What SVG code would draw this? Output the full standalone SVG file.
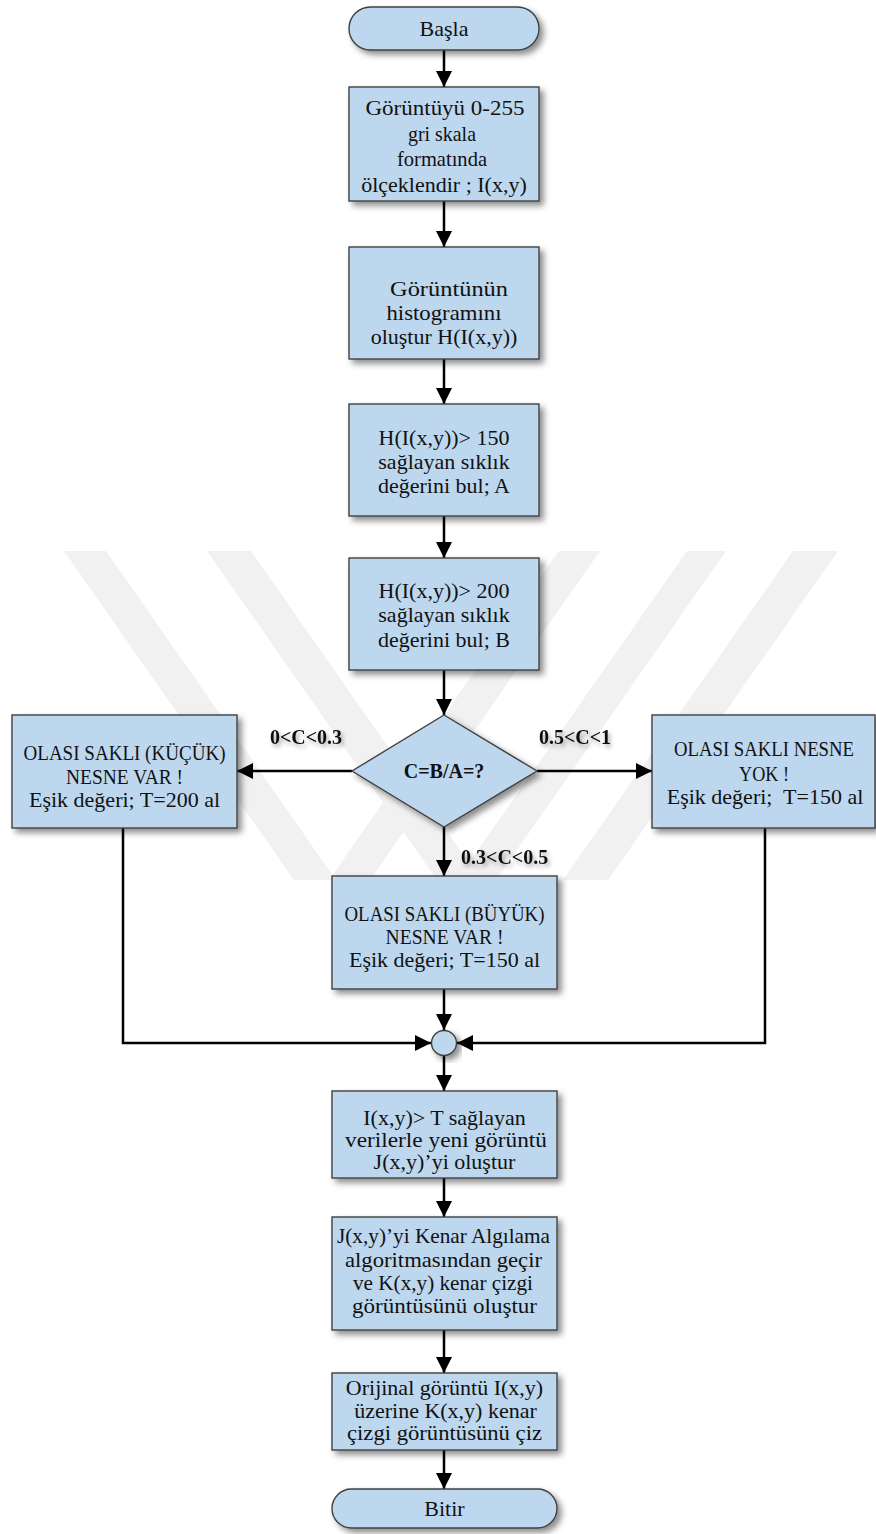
<svg xmlns="http://www.w3.org/2000/svg" width="876" height="1534" viewBox="0 0 876 1534">
<defs>
<filter id="sh" x="-10%" y="-10%" width="130%" height="140%">
<feDropShadow dx="4" dy="4" stdDeviation="3" flood-color="#000" flood-opacity="0.45"/>
</filter>
<filter id="tsh" x="-20%" y="-30%" width="150%" height="180%">
<feDropShadow dx="2" dy="3" stdDeviation="2" flood-color="#000" flood-opacity="0.35"/>
</filter>
<marker id="ar" markerUnits="userSpaceOnUse" markerWidth="16" markerHeight="16" refX="16" refY="8" orient="auto">
<path d="M0,0 L16,8 L0,16 z" fill="#000"/>
</marker>
</defs>
<style>
.n{fill:#bdd7ee;stroke:#404040;stroke-width:1.4;filter:url(#sh)}
.t{font-family:"Liberation Serif",serif;font-size:22px;fill:#111;text-anchor:middle}
.k{font-size:21px}
.b{font-family:"Liberation Serif",serif;font-size:20px;font-weight:bold;fill:#111}
.c{fill:none;stroke:#000;stroke-width:2.5;marker-end:url(#ar)}
.w{fill:#f1f1f1}
</style>
<rect width="876" height="1534" fill="#fff"/>
<g id="watermark">
<polygon class="w" points="64,551 106,551 336,880 294,880"/>
<polygon class="w" points="207,551 251,551 481,880 437,880"/>
<polygon class="w" points="559,551 600,551 370,880 329,880"/>
<polygon class="w" points="687,551 726,551 496,880 457,880"/>
<polygon class="w" points="793,551 838,551 608,880 563,880"/>
</g>
<g id="connectors">
<line class="c" x1="444" y1="50" x2="444" y2="87"/>
<line class="c" x1="444" y1="201" x2="444" y2="247"/>
<line class="c" x1="444" y1="359" x2="444" y2="404"/>
<line class="c" x1="444" y1="516" x2="444" y2="558"/>
<line class="c" x1="444" y1="670" x2="444" y2="715"/>
<line class="c" x1="352" y1="771" x2="237" y2="771"/>
<line class="c" x1="537" y1="771" x2="652" y2="771"/>
<line class="c" x1="444" y1="827" x2="444" y2="876"/>
<polyline class="c" points="123,828 123,1043 431,1043"/>
<polyline class="c" points="765,828 765,1043 457,1043"/>
<line class="c" x1="444" y1="989" x2="444" y2="1030"/>
<line class="c" x1="444" y1="1056" x2="444" y2="1091"/>
<line class="c" x1="444" y1="1178" x2="444" y2="1217"/>
<line class="c" x1="444" y1="1330" x2="444" y2="1373"/>
<line class="c" x1="444" y1="1450" x2="444" y2="1489"/>
</g>
<g id="start">
<rect class="n" x="349" y="7" width="190" height="43" rx="21.5"/>
<text class="t" x="444" y="36">Başla</text>
</g>
<g id="box1">
<rect class="n" x="349" y="87" width="190" height="114"/>
<text class="t" x="445" y="115" textLength="159" lengthAdjust="spacingAndGlyphs">Görüntüyü 0-255</text>
<text class="t" x="442" y="141" textLength="68" lengthAdjust="spacingAndGlyphs">gri skala</text>
<text class="t" x="442" y="166" textLength="90" lengthAdjust="spacingAndGlyphs">formatında</text>
<text class="t" x="444" y="192">ölçeklendir ; I(x,y)</text>
</g>
<g id="box2">
<rect class="n" x="349" y="247" width="190" height="112"/>
<text class="t" x="449" y="296" textLength="118" lengthAdjust="spacingAndGlyphs">Görüntünün</text>
<text class="t" x="444" y="320" textLength="115" lengthAdjust="spacingAndGlyphs">histogramını</text>
<text class="t" x="444" y="344">oluştur H(I(x,y))</text>
</g>
<g id="box3">
<rect class="n" x="349" y="404" width="190" height="112"/>
<text class="t" x="444" y="445">H(I(x,y))&gt; 150</text>
<text class="t" x="444" y="469">sağlayan sıklık</text>
<text class="t" x="444" y="493">değerini bul; A</text>
</g>
<g id="box4">
<rect class="n" x="349" y="558" width="190" height="112"/>
<text class="t" x="444" y="598">H(I(x,y))&gt; 200</text>
<text class="t" x="444" y="622">sağlayan sıklık</text>
<text class="t" x="444" y="647">değerini bul; B</text>
</g>
<g id="decision">
<polygon class="n" points="444,715 537,771 444,827 352,771"/>
<text class="b" x="444" y="778" text-anchor="middle">C=B/A=?</text>
</g>
<g id="left">
<rect class="n" x="12" y="715" width="225" height="113"/>
<text class="t k" x="124.5" y="760" textLength="202" lengthAdjust="spacingAndGlyphs">OLASI SAKLI (KÜÇÜK)</text>
<text class="t k" x="124.5" y="784" textLength="117" lengthAdjust="spacingAndGlyphs">NESNE VAR !</text>
<text class="t" x="124.5" y="807">Eşik değeri; T=200 al</text>
</g>
<g id="right">
<rect class="n" x="652" y="715" width="223" height="113"/>
<text class="t k" x="764" y="756" textLength="180" lengthAdjust="spacingAndGlyphs">OLASI SAKLI NESNE</text>
<text class="t k" x="764" y="781" textLength="50" lengthAdjust="spacingAndGlyphs">YOK !</text>
<text class="t" x="765" y="804" xml:space="preserve">Eşik değeri;  T=150 al</text>
</g>
<g id="labels" filter="url(#tsh)">
<text class="b" x="306" y="744" text-anchor="middle">0&lt;C&lt;0.3</text>
<text class="b" x="575" y="744" text-anchor="middle">0.5&lt;C&lt;1</text>
<text class="b" x="461" y="864">0.3&lt;C&lt;0.5</text>
</g>
<g id="box5">
<rect class="n" x="332" y="876" width="225" height="113"/>
<text class="t k" x="444.5" y="921" textLength="200" lengthAdjust="spacingAndGlyphs">OLASI SAKLI (BÜYÜK)</text>
<text class="t k" x="444.5" y="944" textLength="118" lengthAdjust="spacingAndGlyphs">NESNE VAR !</text>
<text class="t" x="444.5" y="967">Eşik değeri; T=150 al</text>
</g>
<g id="merge">
<circle class="n" cx="444" cy="1043" r="12.5"/>
</g>
<g id="box6">
<rect class="n" x="332" y="1091" width="225" height="87"/>
<text class="t" x="444.5" y="1125">I(x,y)&gt; T sağlayan</text>
<text class="t" x="446" y="1147" textLength="202" lengthAdjust="spacingAndGlyphs">verilerle yeni görüntü</text>
<text class="t" x="444.5" y="1169">J(x,y)’yi oluştur</text>
</g>
<g id="box7">
<rect class="n" x="332" y="1217" width="225" height="113"/>
<text class="t" x="443.5" y="1243" textLength="213" lengthAdjust="spacingAndGlyphs">J(x,y)’yi Kenar Algılama</text>
<text class="t" x="443.5" y="1267" textLength="197" lengthAdjust="spacingAndGlyphs">algoritmasından geçir</text>
<text class="t" x="443" y="1290" textLength="180" lengthAdjust="spacingAndGlyphs">ve K(x,y) kenar çizgi</text>
<text class="t" x="444.5" y="1313" textLength="185" lengthAdjust="spacingAndGlyphs">görüntüsünü oluştur</text>
</g>
<g id="box8">
<rect class="n" x="332" y="1373" width="225" height="77"/>
<text class="t" x="444.5" y="1395">Orijinal görüntü I(x,y)</text>
<text class="t" x="445.5" y="1418">üzerine K(x,y) kenar</text>
<text class="t" x="444.5" y="1440" textLength="195" lengthAdjust="spacingAndGlyphs">çizgi görüntüsünü çiz</text>
</g>
<g id="end">
<rect class="n" x="332" y="1489" width="225" height="39" rx="19.5"/>
<text class="t" x="444.5" y="1516">Bitir</text>
</g>
</svg>
